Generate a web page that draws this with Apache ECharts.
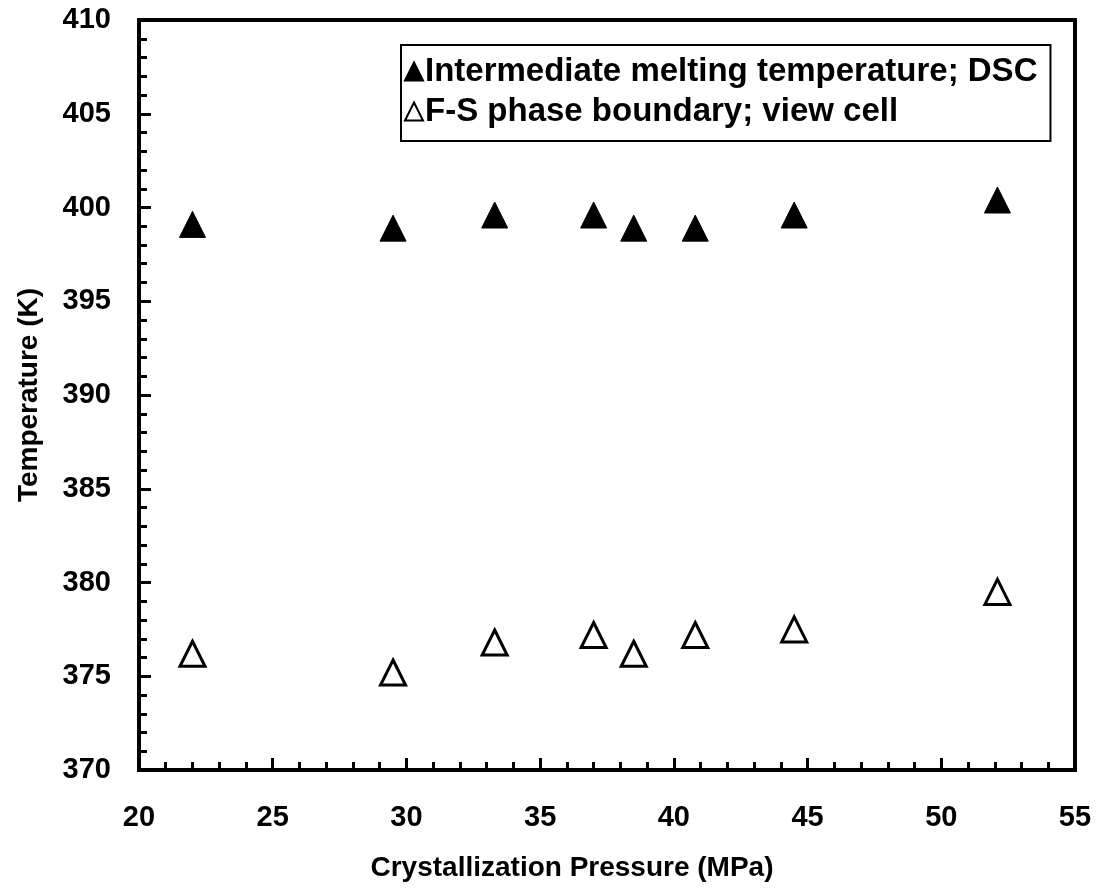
<!DOCTYPE html>
<html>
<head>
<meta charset="utf-8">
<script src="https://cdn.jsdelivr.net/npm/echarts@6/dist/echarts.min.js"></script>
<style>html,body{margin:0;padding:0;background:#fff}#c{width:1107px;height:894px}</style>
</head>
<body>
<div id="c"></div>
<script>
const pressure = [22.0, 29.5, 33.3, 37.0, 38.5, 40.8, 44.5, 52.1];
const meltingDSC = [399.1, 398.9, 399.6, 399.6, 398.9, 398.9, 399.6, 400.4];
const fsBoundary = [376.2, 375.2, 376.8, 377.2, 376.2, 377.2, 377.5, 379.5];
const seriesNames = ['Intermediate melting temperature; DSC', 'F-S phase boundary; view cell'];
const xTitle = 'Crystallization Pressure (MPa)';
const yTitle = 'Temperature (K)';

const FONT = "'Liberation Sans', Arial, sans-serif";
const chart = echarts.init(document.getElementById('c'), null, {renderer: 'canvas'});
chart.setOption({
  backgroundColor: '#fff',
  animation: false,
  grid: {left: 139, right: 32, top: 20, bottom: 124, show: true, borderColor: '#000', borderWidth: 4, containLabel: false},
  legend: {
    orient: 'vertical', left: 401, top: 45,
    padding: [10, 13, 13, 3], itemGap: 7,
    borderColor: '#000', borderWidth: 2, backgroundColor: '#fff',
    itemWidth: 18, itemHeight: 18,
    textStyle: {fontFamily: FONT, fontWeight: 'bold', fontSize: 33, color: '#000', padding: [0,0,0,-3]},
    data: seriesNames.map(n => ({name: n}))
  },
  xAxis: {
    type: 'value', min: 20, max: 55, interval: 5,
    name: xTitle, nameLocation: 'middle', nameGap: 84,
    nameTextStyle: {fontFamily: FONT, fontWeight: 'bold', fontSize: 28, color: '#000', padding: [0, 70, 0, 0]},
    axisLine: {lineStyle: {color: '#000', width: 4}},
    axisTick: {inside: true, length: 12, lineStyle: {color: '#000', width: 3}},
    minorTick: {show: true, splitNumber: 5, length: 8, lineStyle: {color: '#000', width: 3}},
    splitLine: {show: false},
    axisLabel: {fontFamily: FONT, fontWeight: 'bold', fontSize: 29, color: '#000', margin: 33}
  },
  yAxis: {
    type: 'value', min: 370, max: 410, interval: 5,
    name: yTitle, nameLocation: 'middle', nameGap: 96, nameRotate: 90,
    nameTextStyle: {fontFamily: FONT, fontWeight: 'bold', fontSize: 28, color: '#000'},
    axisLine: {show: true, lineStyle: {color: '#000', width: 4}},
    axisTick: {show: true, inside: true, length: 12, lineStyle: {color: '#000', width: 3}},
    minorTick: {show: true, splitNumber: 5, length: 8, lineStyle: {color: '#000', width: 3}},
    splitLine: {show: false},
    axisLabel: {fontFamily: FONT, fontWeight: 'bold', fontSize: 29, color: '#000', margin: 28}
  },
  series: [
    {
      name: seriesNames[0], type: 'scatter', symbol: 'triangle', symbolSize: 26,
      itemStyle: {color: '#000', borderColor: '#000', borderWidth: 1, opacity: 1},
      data: pressure.map((p, i) => [p, meltingDSC[i]])
    },
    {
      name: seriesNames[1], type: 'scatter', symbol: 'triangle', symbolSize: 25,
      itemStyle: {color: '#fff', borderColor: '#000', borderWidth: 3, opacity: 1},
      data: pressure.map((p, i) => [p, fsBoundary[i]])
    }
  ]
});
</script>
</body>
</html>
